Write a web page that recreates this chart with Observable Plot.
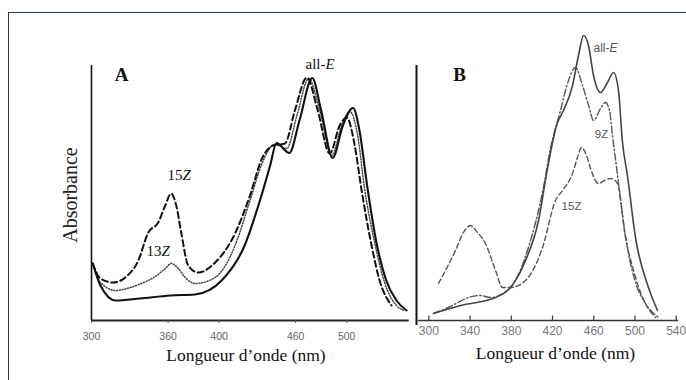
<!DOCTYPE html>
<html><head><meta charset="utf-8">
<script src="https://cdn.jsdelivr.net/npm/d3@7"></script>
<script src="https://cdn.jsdelivr.net/npm/@observablehq/plot@0.6"></script>
<style>
body{margin:0;background:#fff;}
#wrap{position:relative;width:686px;height:380px;overflow:hidden;background:#fff;}
#frame{position:absolute;left:8px;top:12px;width:720px;height:420px;border-top:1.6px solid #1d3970;border-left:1.6px solid #1d3970;}
#a,#b{position:absolute;top:0;}
#a{left:0px;} #b{left:410px;}
</style></head><body>
<div id="wrap"><div id="frame"></div><div id="a"></div><div id="b"></div></div>
<script>
// ---------- Panel A data: [wavelength nm, absorbance (a.u.)] ----------
const aAllE = [[301,0.228],[307,0.14],[319,0.08],[338,0.088],[362,0.10],[381,0.104],[402,0.16],[420,0.30],[432,0.48],[440,0.62],[445,0.71],[455,0.67],[463,0.80],[473,0.97],[480,0.84],[489,0.65],[497,0.78],[505,0.85],[510,0.76],[516,0.54],[523,0.32],[531,0.16],[539,0.08],[547,0.04]];
const a15Z = [[301,0.228],[307,0.168],[317,0.152],[326.5,0.172],[336.7,0.24],[344.5,0.352],[352.3,0.392],[357.8,0.46],[362.5,0.508],[366.4,0.46],[370.3,0.352],[375.8,0.22],[383.6,0.192],[396.9,0.232],[412.5,0.348],[424.2,0.50],[433.6,0.648],[442.2,0.70],[451.6,0.708],[459.4,0.84],[468.8,0.972],[477.3,0.84],[486.7,0.668],[494.5,0.78],[500,0.812],[506.3,0.70],[511.7,0.52],[519.5,0.30],[525.8,0.16],[535.2,0.06]];
const a13Z = [[301,0.228],[307,0.152],[319,0.12],[330.5,0.132],[339,0.148],[350,0.176],[357.8,0.208],[362.5,0.228],[368,0.208],[373.4,0.172],[381.3,0.148],[396.9,0.172],[412.5,0.30],[424.2,0.48],[433.6,0.628],[443.8,0.704],[453,0.688],[461,0.82],[470.3,0.968],[478.9,0.84],[488.3,0.66],[496,0.78],[502.3,0.836],[508.6,0.74],[514,0.528],[521.9,0.312],[529.7,0.152],[539,0.06],[545.3,0.04]];
const ticksA = [300, 360, 400, 460, 500];
const labelsA = [
  {nm: 483.4, a: 1.024, txt: "all-", it: "E"},
  {nm: 371.3, a: 0.58, txt: "15", it: "Z"},
  {nm: 354.9, a: 0.276, txt: "13", it: "Z"}
];

// ---------- Panel B data ----------
const bAllE = [[304.5,0.028],[330.7,0.06],[364.7,0.092],[379.2,0.132],[393.8,0.24],[406.4,0.40],[415.1,0.608],[424.8,0.792],[429.7,0.832],[439.4,0.94],[445.2,1.06],[450.1,1.14],[454.9,1.10],[459.8,0.98],[466.5,0.912],[473.3,0.952],[479.2,0.992],[484,0.92],[487.9,0.712],[492.7,0.58],[500.5,0.332],[513.1,0.132],[521.9,0.04]];
const b9Z = [[304.5,0.028],[321,0.056],[338.4,0.092],[350,0.10],[359.8,0.092],[379.2,0.132],[396.6,0.292],[411.2,0.532],[418,0.688],[427.7,0.84],[435.5,0.96],[442.3,1.012],[449.1,0.94],[455,0.86],[459.8,0.80],[466.5,0.848],[471.4,0.872],[475.3,0.84],[478.2,0.74],[483.1,0.58],[487.9,0.42],[493.7,0.268],[501.5,0.14],[510.2,0.068],[522.8,0.012]];
const b15Z = [[309.3,0.148],[316.1,0.20],[325.8,0.28],[333.6,0.352],[340.4,0.38],[347.2,0.352],[354.9,0.308],[364.7,0.20],[371.4,0.132],[379.2,0.132],[393.8,0.16],[410.3,0.292],[422.9,0.48],[429.7,0.52],[439.4,0.588],[444.2,0.652],[448.1,0.692],[453,0.66],[456.9,0.608],[464.6,0.548],[470.4,0.56],[476.3,0.568],[483.1,0.548],[490.8,0.332],[498.6,0.20],[507.3,0.092],[519.9,0.012]];
const ticksB = [300, 340, 380, 420, 460, 500, 540];
const labelsBit = [{nm: 475.3, a: 1.088, txt: "all-", it: "E"}];
const labelsB = [{nm: 467.5, a: 0.744, txt: "9Z"}, {nm: 438.4, a: 0.456, txt: "15Z"}];

const xTitle = "Longueur d\u2019onde (nm)";
const yTitle = "Absorbance";

const serif = "'Liberation Serif', 'Times New Roman', serif";
const sans = "'Liberation Sans', Arial, sans-serif";
const rows = arr => arr.map(([nm, a]) => ({nm, a}));

const plotA = Plot.plot({
  width: 416, height: 380,
  marginLeft: 91, marginRight: 6, marginTop: 65, marginBottom: 60,
  x: {domain: [300, 550], axis: null},
  y: {domain: [0, 1.02], axis: null},
  style: {background: "transparent", overflow: "visible"},
  marks: [
    Plot.ruleX([300], {y1: 0, y2: 1.02, stroke: "#111", strokeWidth: 1.6}),
    Plot.ruleY([0], {x1: 300, x2: 549, stroke: "#222", strokeWidth: 2}),
    Plot.axisX(ticksA, {tickSize: 3, tickPadding: 9, fontSize: 10.5, fill: "#666", stroke: "#555", fontFamily: sans, label: null, tickFormat: d => String(d)}),
    Plot.line(rows(a13Z), {x: "nm", y: "a", stroke: "#444", strokeWidth: 1.5, strokeDasharray: "1,1.8", curve: "monotone-x"}),
    Plot.line(rows(a15Z), {x: "nm", y: "a", stroke: "#111", strokeWidth: 2, strokeDasharray: "6,3.5", curve: "monotone-x"}),
    Plot.line(rows(aAllE), {x: "nm", y: "a", stroke: "#111", strokeWidth: 2.1, curve: "monotone-x"}),
    Plot.text(labelsA, {x: "nm", y: "a", text: "txt", textAnchor: "end", fontFamily: serif, fontSize: 15, fill: "#111"}),
    Plot.text(labelsA, {x: "nm", y: "a", text: "it", textAnchor: "start", fontFamily: serif, fontSize: 15, fontStyle: "italic", fill: "#111"}),
    Plot.text(["A"], {frameAnchor: "top-left", dx: 30, dy: 9, textAnchor: "middle", lineAnchor: "middle", fontFamily: serif, fontWeight: "bold", fontSize: 19, fill: "#111"}),
    Plot.text([xTitle], {frameAnchor: "bottom", dx: -5, dy: 35, lineAnchor: "middle", fontFamily: serif, fontSize: 17.5, fill: "#111"}),
    Plot.text([yTitle], {frameAnchor: "left", dx: -21, dy: 2, rotate: -90, lineAnchor: "middle", textAnchor: "middle", fontFamily: serif, fontSize: 20, fill: "#222"})
  ]
});
document.getElementById("a").appendChild(plotA);

const plotB = Plot.plot({
  width: 276, height: 380,
  marginLeft: 6, marginRight: 0, marginTop: 65, marginBottom: 60,
  x: {domain: [288, 550], axis: null},
  y: {domain: [0, 1.02], axis: null},
  style: {background: "transparent", overflow: "visible"},
  marks: [
    Plot.ruleX([288], {y1: -0.02, y2: 1.02, stroke: "#111", strokeWidth: 2}),
    Plot.ruleY([0], {x1: 290, x2: 542.5, stroke: "#333", strokeWidth: 1.6}),
    Plot.ruleX(ticksB, {x: d => d, y1: 0, y2: 0.018, stroke: "#444", strokeWidth: 1.3}),
    Plot.axisX(ticksB, {tickSize: 0, tickPadding: 6, fontSize: 12, fill: "#777", fontFamily: sans, label: null, tickFormat: d => String(d)}),
    Plot.line(rows(b15Z), {x: "nm", y: "a", stroke: "#555", strokeWidth: 1.4, strokeDasharray: "5,3", curve: "monotone-x"}),
    Plot.line(rows(b9Z), {x: "nm", y: "a", stroke: "#555", strokeWidth: 1.4, strokeDasharray: "7,2.5,1.5,2.5", curve: "monotone-x"}),
    Plot.line(rows(bAllE), {x: "nm", y: "a", stroke: "#444", strokeWidth: 1.6, curve: "monotone-x"}),
    Plot.text(labelsBit, {x: "nm", y: "a", text: "txt", textAnchor: "end", fontFamily: sans, fontSize: 12, fill: "#555"}),
    Plot.text(labelsBit, {x: "nm", y: "a", text: "it", textAnchor: "start", fontFamily: sans, fontSize: 12, fontStyle: "italic", fill: "#555"}),
    Plot.text(labelsB, {x: "nm", y: "a", text: "txt", fontFamily: sans, fontSize: 11.5, fill: "#555"}),
    Plot.text(["B"], {frameAnchor: "top-left", dx: 43, dy: 9, textAnchor: "middle", lineAnchor: "middle", fontFamily: serif, fontWeight: "bold", fontSize: 19, fill: "#111"}),
    Plot.text([xTitle], {frameAnchor: "bottom", dx: 4, dy: 33, lineAnchor: "middle", fontFamily: serif, fontSize: 17.5, fill: "#111"})
  ]
});
document.getElementById("b").appendChild(plotB);
</script>
</body></html>
